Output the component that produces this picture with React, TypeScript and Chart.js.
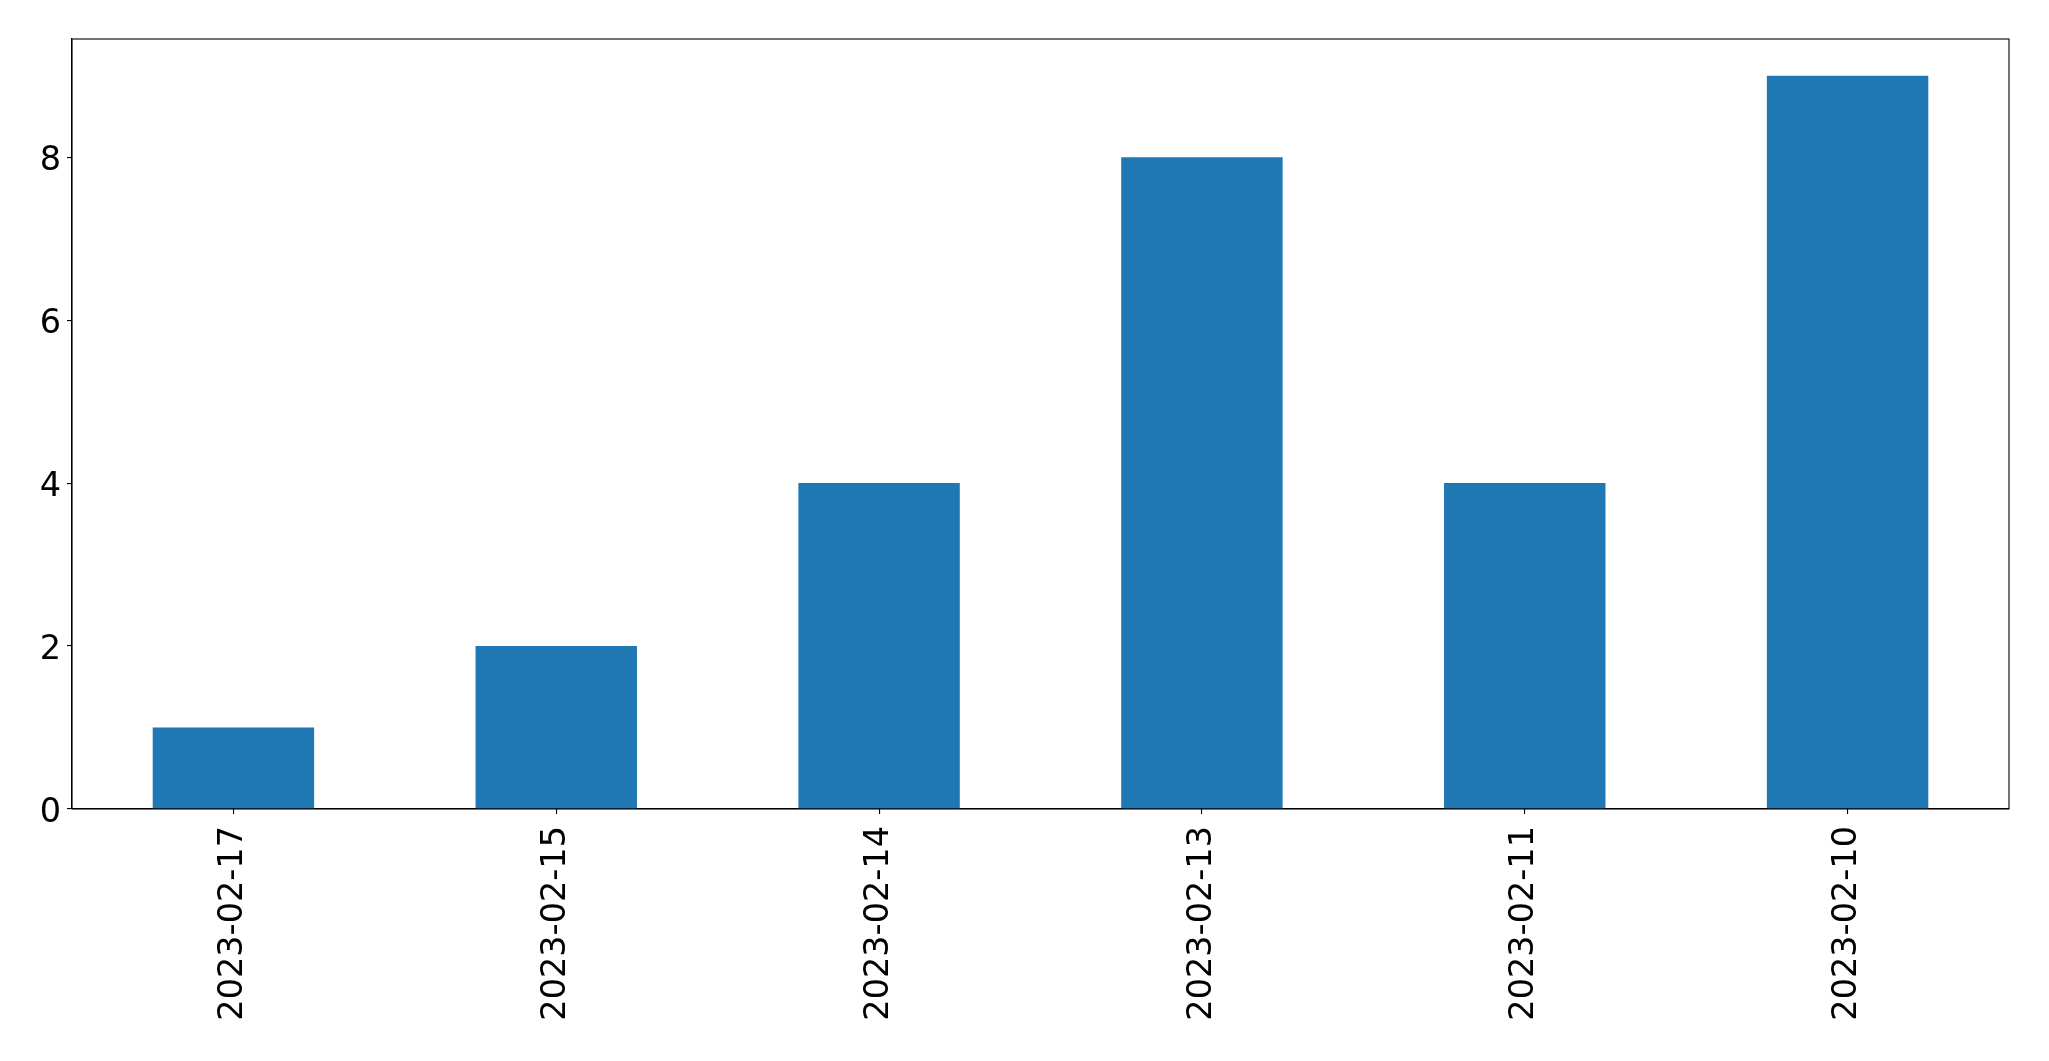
import React, { useEffect, useRef } from "react";
import { Chart, registerables } from "chart.js";

Chart.register(...registerables);

const categories = ["2023-02-17", "2023-02-15", "2023-02-14", "2023-02-13", "2023-02-11", "2023-02-10"];
const counts = [1, 2, 4, 8, 4, 9];
const yTicks = [0, 2, 4, 6, 8];

const W = 2049;
const H = 1061;

const framePlugin = {
  id: "frame",
  afterDraw(chart: any) {
    const { ctx, chartArea } = chart;
    ctx.save();
    ctx.strokeStyle = "#000";
    ctx.lineWidth = 1.1;
    ctx.strokeRect(chartArea.left, chartArea.top, chartArea.right - chartArea.left, chartArea.bottom - chartArea.top);
    ctx.restore();
  },
};

export default function App() {
  const ref = useRef<HTMLCanvasElement | null>(null);

  useEffect(() => {
    if (!ref.current) return;
    const chart = new Chart(ref.current, {
      type: "bar",
      data: {
        labels: categories,
        datasets: [
          {
            data: counts,
            backgroundColor: "#1f77b4",
            borderWidth: 0,
            barPercentage: 0.5,
            categoryPercentage: 1,
          },
        ],
      },
      options: {
        animation: false,
        responsive: false,
        maintainAspectRatio: false,
        devicePixelRatio: 1,
        layout: { padding: { left: 0, top: 39, right: 40, bottom: 0 } },
        plugins: { legend: { display: false }, tooltip: { enabled: false } },
        scales: {
          x: {
            offset: true,
            grid: { display: true, drawOnChartArea: false, offset: false, tickLength: 5, color: "#000", lineWidth: 1.1 },
            border: { display: true, color: "#000", width: 1.1 },
            ticks: {
              minRotation: 90,
              maxRotation: 90,
              autoSkip: false,
              padding: 12,
              color: "#000",
              font: { family: "'DejaVu Sans'", size: 33.5 },
            },
            afterFit(scale: any) {
              scale.height = H - 809;
            },
          },
          y: {
            min: 0,
            max: 9.45,
            grid: { display: true, drawOnChartArea: false, tickLength: 5, color: "#000", lineWidth: 1.1 },
            border: { display: true, color: "#000", width: 1.1 },
            ticks: {
              stepSize: 2,
              includeBounds: false,
              padding: 6,
              color: "#000",
              font: { family: "'DejaVu Sans'", size: 33.5, lineHeight: 0.25 },
              callback: (v: any) => ["", String(v)],
            },
            afterBuildTicks(scale: any) {
              scale.ticks = yTicks.map((v) => ({ value: v }));
            },
            afterFit(scale: any) {
              scale.width = 72;
            },
          },
        },
      },
      plugins: [framePlugin],
    });
    return () => chart.destroy();
  }, []);

  return (
    <div style={{ position: "fixed", left: 0, top: 0, width: W, height: H, background: "#fff" }}>
      <canvas ref={ref} width={W} height={H} style={{ width: W, height: H, display: "block" }} />
    </div>
  );
}
